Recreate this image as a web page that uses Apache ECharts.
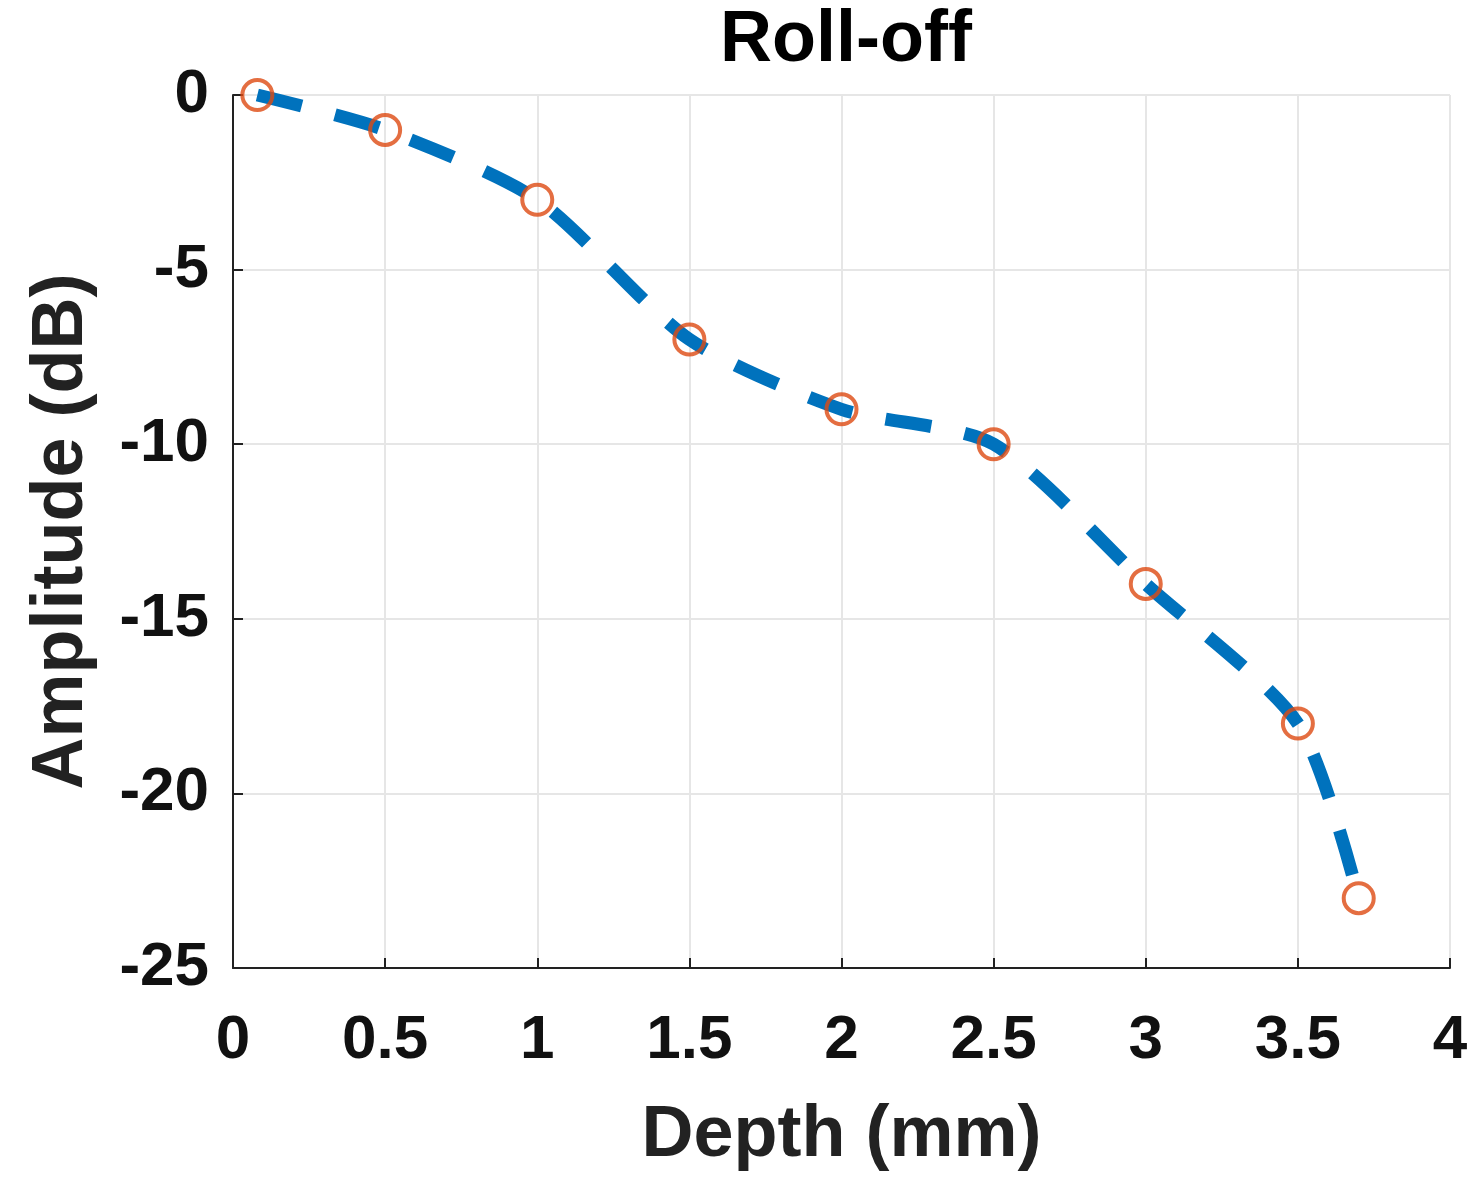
<!DOCTYPE html>
<html>
<head>
<meta charset="utf-8">
<script src="https://cdn.jsdelivr.net/npm/echarts@6/dist/echarts.min.js"></script>
<style>
html, body { margin: 0; padding: 0; background: #fff; }
#chart { width: 1476px; height: 1181px; }
</style>
</head>
<body>
<div id="chart"></div>
<script>
// depth (mm) and amplitude (dB)
var depth = [0.08, 0.5, 1.0, 1.5, 2.0, 2.5, 3.0, 3.5, 3.7];
var amplitude = [0, -1, -3, -7, -9, -10, -14, -18, -23];
var xTicks = [0, 0.5, 1, 1.5, 2, 2.5, 3, 3.5, 4];
var yTicks = [-25, -20, -15, -10, -5, 0];

var points = depth.map(function (d, i) { return [d, amplitude[i]]; });
var font = 'Liberation Sans, Arial, sans-serif';

var myChart = echarts.init(document.getElementById('chart'));
var option = {
	backgroundColor: '#fff',
	animation: false,
	title: {
		text: 'Roll-off',
		left: 841,
		top: 0,
		textAlign: 'center',
		textStyle: { color: '#000', fontSize: 72, fontWeight: 'bold', fontFamily: font }
	},
	grid: { left: 233, right: 26, top: 95, bottom: 213 },
	xAxis: {
		type: 'value',
		min: xTicks[0],
		max: xTicks[xTicks.length - 1],
		interval: 0.5,
		name: 'Depth (mm)',
		nameLocation: 'middle',
		nameGap: 132,
		nameTextStyle: { color: '#222', fontSize: 72, fontWeight: 'bold', fontFamily: font },
		axisLine: { show: true, onZero: false, lineStyle: { color: '#222', width: 2 } },
		axisTick: { show: true, inside: true, length: 10, lineStyle: { color: '#222', width: 2 } },
		axisLabel: { color: '#111', fontSize: 62, fontWeight: 'bold', fontFamily: font, margin: 42 },
		splitLine: { show: true, lineStyle: { color: '#e6e6e6', width: 2 } }
	},
	yAxis: {
		type: 'value',
		min: yTicks[0],
		max: yTicks[yTicks.length - 1],
		interval: 5,
		name: 'Amplitude (dB)',
		nameLocation: 'middle',
		nameGap: 135,
		nameTextStyle: { color: '#222', fontSize: 72, fontWeight: 'bold', fontFamily: font },
		axisLine: { show: true, onZero: false, lineStyle: { color: '#222', width: 2 } },
		axisTick: { show: true, inside: true, length: 10, lineStyle: { color: '#222', width: 2 } },
		axisLabel: { color: '#111', fontSize: 62, fontWeight: 'bold', fontFamily: font, margin: 24 },
		splitLine: { show: true, lineStyle: { color: '#e6e6e6', width: 2 } }
	},
	series: [{
		type: 'line',
		data: points,
		smooth: 0.25,
		showSymbol: false,
		lineStyle: { color: '#0072BD', width: 13, type: [46, 34], cap: 'butt' },
		z: 2
	}, {
		type: 'scatter',
		data: points,
		symbol: 'circle',
		symbolSize: 30,
		itemStyle: { color: 'rgba(0,0,0,0)', borderColor: '#DD4A12', borderWidth: 4 },
		z: 3
	}]
};
myChart.setOption(option);
</script>
</body>
</html>
